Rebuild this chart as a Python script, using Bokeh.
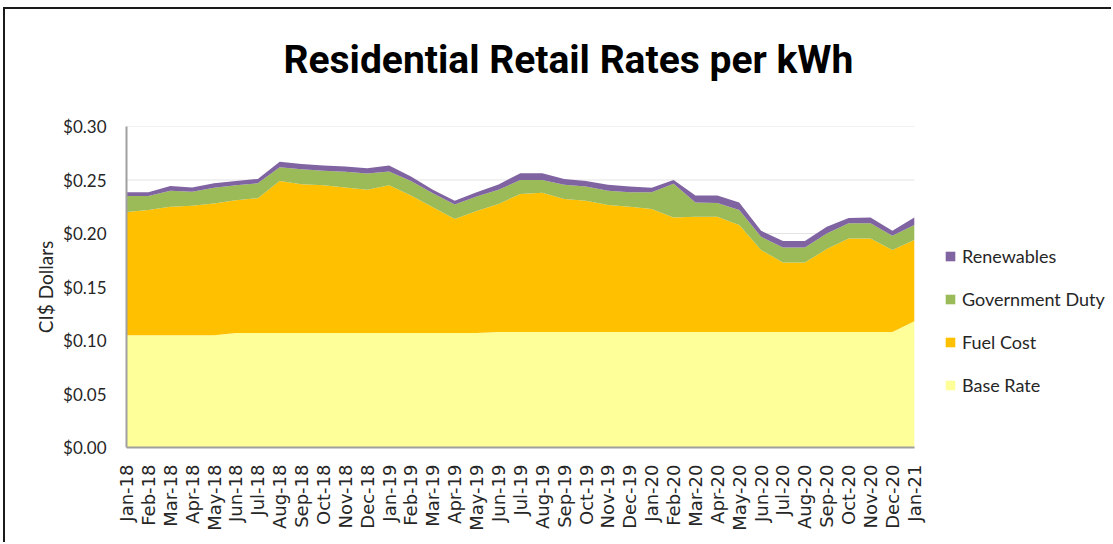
from math import pi
from bokeh.plotting import figure
from bokeh.models import (ColumnDataSource, Range1d, FixedTicker, NumeralTickFormatter,
                          Legend, LegendItem, Title)
from bokeh.embed import file_html
from bokeh.resources import INLINE

months = ["Jan-18", "Feb-18", "Mar-18", "Apr-18", "May-18", "Jun-18", "Jul-18", "Aug-18",
          "Sep-18", "Oct-18", "Nov-18", "Dec-18", "Jan-19", "Feb-19", "Mar-19", "Apr-19",
          "May-19", "Jun-19", "Jul-19", "Aug-19", "Sep-19", "Oct-19", "Nov-19", "Dec-19",
          "Jan-20", "Feb-20", "Mar-20", "Apr-20", "May-20", "Jun-20", "Jul-20", "Aug-20",
          "Sep-20", "Oct-20", "Nov-20", "Dec-20", "Jan-21"]

base_rate = [0.105, 0.105, 0.105, 0.105, 0.105, 0.107, 0.107, 0.107, 0.107, 0.107,
             0.107, 0.107, 0.107, 0.107, 0.107, 0.107, 0.107, 0.108, 0.108, 0.108,
             0.108, 0.108, 0.108, 0.108, 0.108, 0.108, 0.108, 0.108, 0.108, 0.108,
             0.108, 0.108, 0.108, 0.108, 0.108, 0.108, 0.118]
fuel_cost = [0.115, 0.117, 0.120, 0.121, 0.123, 0.124, 0.126, 0.142, 0.139, 0.138,
             0.136, 0.134, 0.138, 0.1285, 0.1176, 0.1065, 0.114, 0.1196, 0.129, 0.130,
             0.1243, 0.1227, 0.1187, 0.117, 0.115, 0.107, 0.1077, 0.1077, 0.100, 0.0765,
             0.065, 0.065, 0.0774, 0.0874, 0.0874, 0.0765, 0.076]
government_duty = [0.015, 0.013, 0.015, 0.013, 0.0147, 0.014, 0.014, 0.013, 0.014, 0.0136,
                   0.0147, 0.015, 0.013, 0.0135, 0.013, 0.0135, 0.0135, 0.0132, 0.013, 0.012,
                   0.0132, 0.0133, 0.0133, 0.0136, 0.0156, 0.0314, 0.0133, 0.0129, 0.014, 0.0125,
                   0.014, 0.014, 0.0146, 0.0141, 0.0141, 0.0135, 0.014]
renewables = [0.0036, 0.0036, 0.0045, 0.004, 0.0043, 0.004, 0.004, 0.005, 0.005, 0.005,
              0.005, 0.005, 0.0056, 0.0043, 0.0032, 0.0037, 0.0041, 0.005, 0.0064, 0.0064,
              0.0055, 0.005, 0.0055, 0.0054, 0.0041, 0.0036, 0.0065, 0.0069, 0.007, 0.0056,
              0.006, 0.006, 0.0064, 0.005, 0.0055, 0.0046, 0.007]

series = ["base", "fuel", "gov", "ren"]
series_labels = ["Base Rate", "Fuel Cost", "Government Duty", "Renewables"]
colors = ["#FFFF99", "#FFC000", "#9BBB59", "#8064A2"]
y_ticks = [0.0, 0.05, 0.10, 0.15, 0.20, 0.25, 0.30]

# layout: the frame runs to the right edge so the legend (outside the data area) is not clipped
X_LAST = len(months) - 1
X_END = X_LAST * 986 / 787

x = list(range(len(months)))
source = ColumnDataSource(dict(x=x, base=base_rate, fuel=fuel_cost,
                               gov=government_duty, ren=renewables))

p = figure(width=1108, height=535, output_backend="svg", toolbar_location=None,
           x_range=Range1d(0, X_END), y_range=Range1d(0, 0.30),
           min_border_left=121, min_border_right=0, min_border_top=117,
           min_border_bottom=97)
p.styles = {"margin-left": "3px", "margin-top": "7px",
            "border-left": "2px solid #1a1a1a", "border-top": "2px solid #1a1a1a"}

# horizontal grid lines limited to the data span
p.segment(x0=[0] * len(y_ticks), x1=[X_LAST] * len(y_ticks), y0=y_ticks, y1=y_ticks,
          line_color="#E3E3E3", line_width=1)

renderers = p.varea_stack(stackers=series, x="x", color=colors, source=source)

# spacer between the title and the data area
p.add_layout(Title(text=" ", text_font_size="10px", standoff=31), "above")

# title
p.title.text = "Residential Retail Rates per kWh"
p.title.text_font = "Roboto"
p.title.text_font_style = "bold"
p.title.text_font_size = "39px"
p.title.text_color = "#000000"
p.title.align = "left"
p.title.offset = 157
p.title.standoff = 0

# axes
p.xaxis.ticker = FixedTicker(ticks=x)
p.xaxis.bounds = (0, X_LAST)
p.xaxis.major_label_overrides = {i: m for i, m in zip(x, months)}
p.xaxis.major_label_orientation = pi / 2
p.xaxis.major_label_text_font = "DejaVu Sans"
p.xaxis.major_label_text_font_size = "18px"
p.xaxis.major_label_text_color = "#262626"
p.xaxis.major_label_standoff = 11
p.xaxis.minor_tick_line_color = None
p.xaxis.major_tick_line_color = None
p.xaxis.axis_line_color = "#A0A0A0"
p.xaxis.axis_line_width = 2

p.yaxis.ticker = FixedTicker(ticks=y_ticks)
p.yaxis.formatter = NumeralTickFormatter(format="$0.00")
p.yaxis.major_label_text_font = "Lato"
p.yaxis.major_label_text_font_size = "17px"
p.yaxis.major_label_text_color = "#262626"
p.yaxis.major_label_standoff = 14
p.yaxis.minor_tick_line_color = None
p.yaxis.major_tick_line_color = None
p.yaxis.axis_line_color = "#A0A0A0"
p.yaxis.axis_line_width = 2
p.yaxis.axis_label = "CI$ Dollars"
p.yaxis.axis_label_text_font = "Lato"
p.yaxis.axis_label_text_font_style = "normal"
p.yaxis.axis_label_text_font_size = "19px"
p.yaxis.axis_label_text_color = "#262626"
p.yaxis.axis_label_standoff = 3

p.xgrid.grid_line_color = None
p.ygrid.grid_line_color = None
p.outline_line_color = None

# legend (top entry = top layer)
items = [LegendItem(label=lab, renderers=[r]) for lab, r in zip(series_labels, renderers)]
legend = Legend(items=items[::-1], location=(818, 51), orientation="vertical")
legend.label_text_font = "Lato"
legend.label_text_font_size = "18px"
legend.label_text_color = "#262626"
legend.glyph_width = 12
legend.glyph_height = 12
legend.label_standoff = 6
legend.spacing = 21
legend.padding = 0
legend.margin = 0
legend.border_line_color = None
legend.background_fill_alpha = 0
p.add_layout(legend, "center")

open("out.html", "w").write(file_html(p, INLINE))
